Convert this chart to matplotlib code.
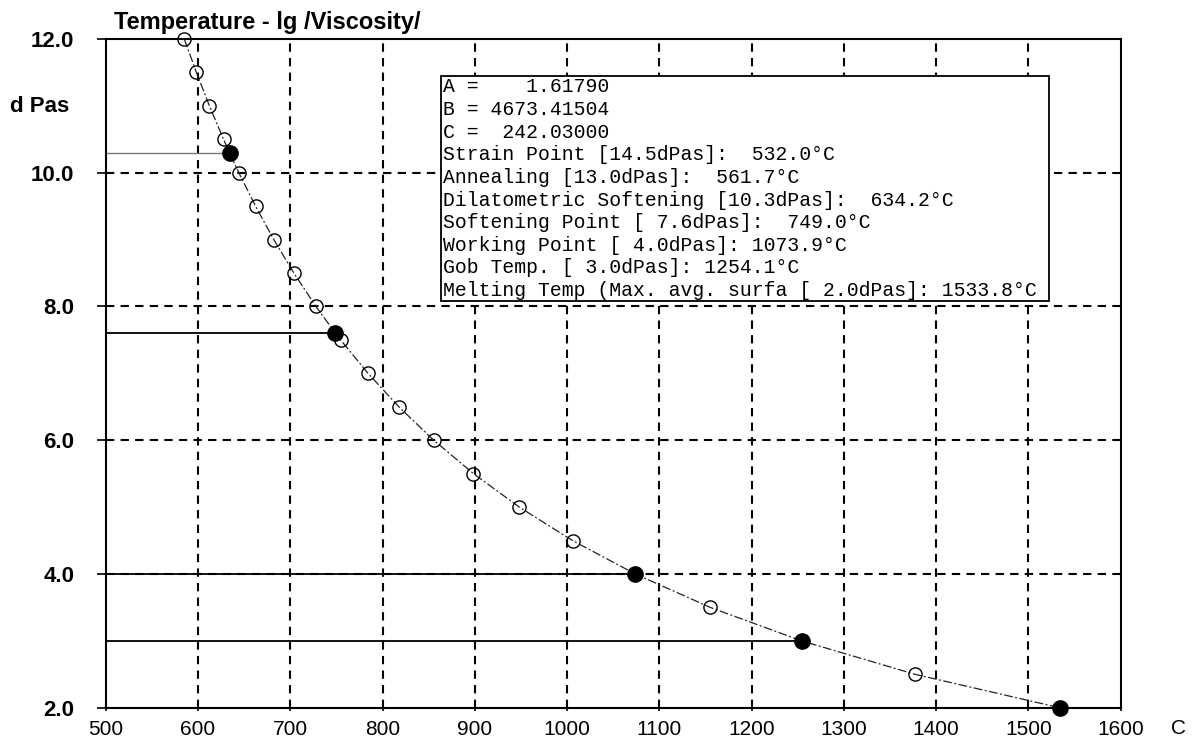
import matplotlib
matplotlib.use("Agg")
import matplotlib.pyplot as plt
from matplotlib.patches import Rectangle

# ---------------- data ----------------
open_visc = [12.0, 11.5, 11.0, 10.5, 10.0, 9.5, 9.0, 8.5, 8.0, 7.5, 7.0, 6.5,
             6.0, 5.5, 5.0, 4.5, 3.5, 2.5]
open_temp = [585.2, 598.3, 612.4, 627.7, 644.3, 662.4, 682.2, 703.9, 727.9,
             754.6, 784.3, 817.7, 855.5, 898.6, 948.2, 1005.9, 1155.2, 1376.9]

fixed_visc = [10.3, 7.6, 4.0, 3.0, 2.0]
fixed_temp = [634.2, 749.0, 1073.9, 1254.1, 1533.8]
fixed_line_color = ["#777777", "black", "black", "black", "black"]

xticks = [500, 600, 700, 800, 900, 1000, 1100, 1200, 1300, 1400, 1500, 1600]
yticks = [2.0, 4.0, 6.0, 8.0, 10.0, 12.0]

info_lines = [
    "A =    1.61790",
    "B = 4673.41504",
    "C =  242.03000",
    "Strain Point [14.5dPas]:  532.0\u00b0C",
    "Annealing [13.0dPas]:  561.7\u00b0C",
    "Dilatometric Softening [10.3dPas]:  634.2\u00b0C",
    "Softening Point [ 7.6dPas]:  749.0\u00b0C",
    "Working Point [ 4.0dPas]: 1073.9\u00b0C",
    "Gob Temp. [ 3.0dPas]: 1254.1\u00b0C",
    "Melting Temp (Max. avg. surfa [ 2.0dPas]: 1533.8\u00b0C",
]

title = "Temperature - lg /Viscosity/"
ylabel = "d Pas"
xunit = "C"

# ---------------- figure ----------------
W, H = 1193, 741
fig = plt.figure(figsize=(W / 100, H / 100), dpi=100)
ax = fig.add_axes([105.7 / W, 1 - 707.7 / H, (1120.7 - 105.7) / W, (707.7 - 39) / H])

ax.set_xlim(500, 1600)
ax.set_ylim(2.0, 12.0)

# grid
for xv in xticks[1:-1]:
    ax.axvline(xv, color="black", lw=1.5, ls=(0, (4, 3)), zorder=1)
for yv in yticks[1:-1]:
    ax.axhline(yv, color="black", lw=1.5, ls=(0, (4, 3)), zorder=1)

# info box (white, hides grid)
bx0, bx1 = (441 - 105.7) / 1015, (1049 - 105.7) / 1015
by1, by0 = (707.7 - 76) / 668.7, (707.7 - 300.5) / 668.7
ax.add_patch(Rectangle((bx0, by0), bx1 - bx0, by1 - by0, transform=ax.transAxes,
                       facecolor="white", edgecolor="black", lw=1.3, zorder=5))
y0 = (707.7 - 87) / 668.7
dy = 22.6 / 668.7
for i, line in enumerate(info_lines):
    ax.text((443 - 105.7) / 1015, y0 - i * dy, line, transform=ax.transAxes,
            family="Liberation Mono", fontsize=14.2, va="center", ha="left",
            color="black", zorder=6)

# horizontal reference lines to fixed points
xmin = ax.get_xlim()[0]
for t, v, c in zip(fixed_temp, fixed_visc, fixed_line_color):
    ax.plot([xmin, t], [v, v], color=c, lw=1.3 if c == "black" else 1.0, zorder=2)

# curve through all points
pts = sorted(zip(open_visc + fixed_visc, open_temp + fixed_temp), key=lambda p: -p[0])
cv = [p[0] for p in pts]
ct = [p[1] for p in pts]
ax.plot(ct, cv, color="#222222", lw=0.9, ls=(0, (7, 2, 1.5, 2)), zorder=3)

ax.plot(open_temp, open_visc, ls="none", marker="o", ms=9.5, mfc="none",
        mec="black", mew=1.0, zorder=4, clip_on=False)
ax.plot(fixed_temp, fixed_visc, ls="none", marker="o", ms=11.0, mfc="black",
        mec="black", zorder=4, clip_on=False)

# axes styling
for s in ax.spines.values():
    s.set_linewidth(1.5)
    s.set_color("black")
    s.set_zorder(7)

ax.set_xticks(xticks)
ax.set_xticklabels([str(v) for v in xticks])
ax.set_yticks(yticks)
ax.set_yticklabels(["%.1f" % v for v in yticks])
ax.tick_params(axis="x", direction="inout", length=4, width=1.2, pad=7.0,
               labelsize=15.0)
ax.tick_params(axis="y", direction="out", length=6.5, width=1.2, pad=16,
               labelsize=16.0)
for lab in ax.get_yticklabels():
    lab.set_fontweight("bold")
    lab.set_family("Liberation Sans")
for lab in ax.get_xticklabels():
    lab.set_family("Liberation Sans")

fig.text(114 / W, 1 - 22 / H, title, ha="left", va="center",
         fontsize=17.0, fontweight="bold", family="Liberation Sans")
fig.text(10 / W, 1 - 107 / H, ylabel, ha="left", va="center",
         fontsize=16.0, fontweight="bold", family="Liberation Sans")
fig.text(1178 / W, 1 - 729 / H, xunit, ha="center", va="center",
         fontsize=15.0, family="Liberation Sans")

fig.savefig("out.png", dpi=100)
